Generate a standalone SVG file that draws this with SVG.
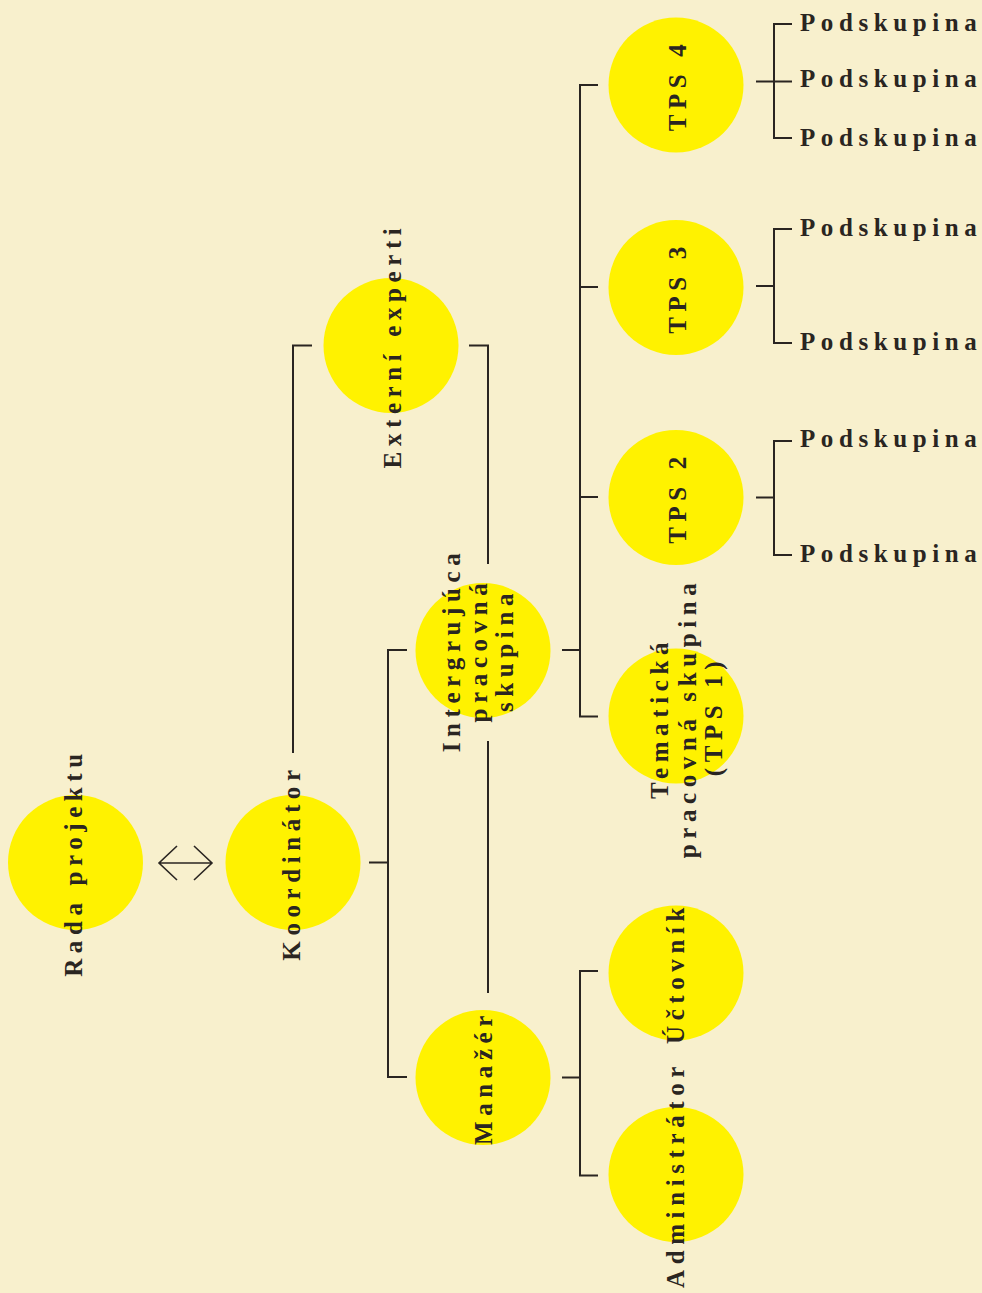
<svg xmlns="http://www.w3.org/2000/svg" width="982" height="1293" viewBox="0 0 982 1293">
<style>
.bg{fill:#F8F0CD}
.c{fill:#FFF200}
.t{font-family:"Liberation Serif","Times New Roman",serif;font-weight:bold;font-size:25px;letter-spacing:5.6px;fill:#2A2521}
.m{text-anchor:middle}
.ln{fill:none;stroke:#2A2521;stroke-width:2}
.ar{fill:none;stroke:#2A2521;stroke-width:1.6}
</style>
<rect class="bg" x="0" y="0" width="982" height="1293"/>
<g id="connectors">
<path class="ar" d="M159,863 H212 M177,846 L159,863 L177,880 M194,846 L212,863 L194,880"/>
<path class="ln" d="M293,753 V345.5 H312"/>
<path class="ln" d="M469,345.5 H488 V564 M488,741 V993"/>
<path class="ln" d="M369,862.5 H388 M407,650 H388 V1077 H407"/>
<path class="ln" d="M562,650 H580 M598,85 H580 V716.5 H598 M580,287 H598 M580,497 H598"/>
<path class="ln" d="M562,1077.5 H580 M598,971 H580 V1175.5 H598"/>
<path class="ln" d="M756,81.5 H792 M792,24 H774 V138 H792"/>
<path class="ln" d="M756,286 H774 M792,229 H774 V343 H792"/>
<path class="ln" d="M756,497.5 H774 M792,441 H774 V555 H792"/>
</g>
<g id="rada"><circle class="c" cx="75.5" cy="862.5" r="67.5"/><text class="t m" transform="translate(82,862.5) rotate(-90)">Rada projektu</text></g>
<g id="koordinator"><circle class="c" cx="293" cy="862.5" r="67.5"/><text class="t m" transform="translate(300,862.5) rotate(-90)">Koordinátor</text></g>
<g id="externi"><circle class="c" cx="391" cy="345.5" r="67.5"/><text class="t m" transform="translate(401,345.5) rotate(-90)">Externí experti</text></g>
<g id="intergrujuca"><circle class="c" cx="483" cy="650.5" r="67.5"/><text class="t m" transform="translate(460,650) rotate(-90)">Intergrujúca</text><text class="t m" transform="translate(487,650) rotate(-90)">pracovná</text><text class="t m" transform="translate(513,650) rotate(-90)">skupina</text></g>
<g id="manazer"><circle class="c" cx="483" cy="1077.5" r="67.5"/><text class="t m" transform="translate(492,1077.5) rotate(-90)">Manažér</text></g>
<g id="tps1"><circle class="c" cx="676" cy="716" r="67.5"/><text class="t m" transform="translate(668,718) rotate(-90)">Tematická</text><text class="t m" transform="translate(696,718) rotate(-90)">pracovná skupina</text><text class="t m" transform="translate(722,716) rotate(-90)">(TPS 1)</text></g>
<g id="tps2"><circle class="c" cx="676" cy="497.5" r="67.5"/><text class="t m" transform="translate(686,497.5) rotate(-90)">TPS 2</text></g>
<g id="tps3"><circle class="c" cx="676" cy="287.5" r="67.5"/><text class="t m" transform="translate(686,287.5) rotate(-90)">TPS 3</text></g>
<g id="tps4"><circle class="c" cx="676" cy="85" r="67.5"/><text class="t m" transform="translate(686,85) rotate(-90)">TPS 4</text></g>
<g id="uctovnik"><circle class="c" cx="676" cy="973" r="67.5"/><text class="t m" transform="translate(684,973) rotate(-90)">Účtovník</text></g>
<g id="administrator"><circle class="c" cx="676" cy="1174.5" r="67.5"/><text class="t m" transform="translate(684,1174.5) rotate(-90)">Administrátor</text></g>
<g id="podskupiny">
<text class="t" x="800" y="31">Podskupina</text>
<text class="t" x="800" y="87">Podskupina</text>
<text class="t" x="800" y="146">Podskupina</text>
<text class="t" x="800" y="236">Podskupina</text>
<text class="t" x="800" y="350">Podskupina</text>
<text class="t" x="800" y="447">Podskupina</text>
<text class="t" x="800" y="562">Podskupina</text>
</g>
</svg>
